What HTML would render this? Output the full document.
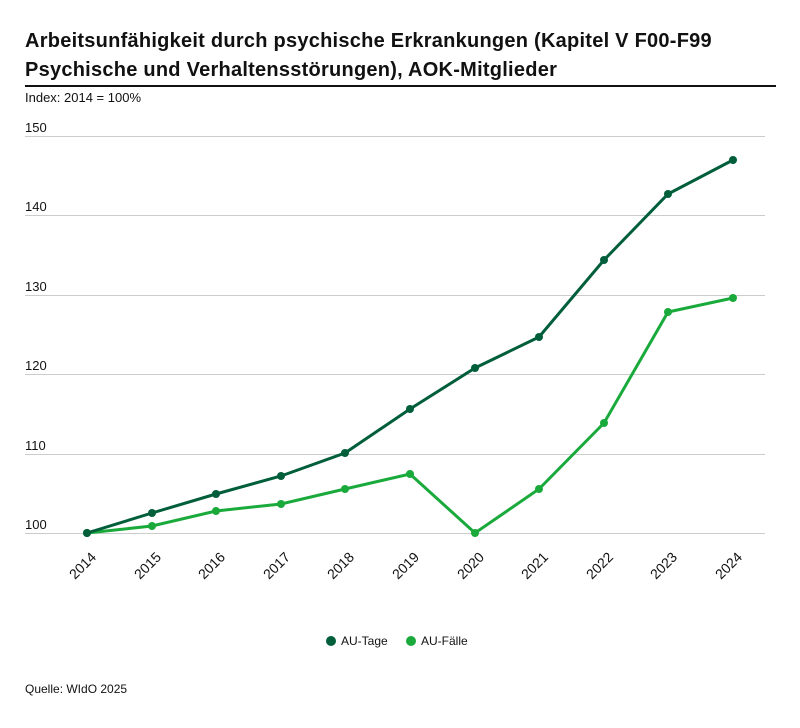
<!DOCTYPE html>
<html><head><meta charset="utf-8"><style>
body{margin:0;background:#fff;width:800px;height:723px;overflow:hidden;font-family:"Liberation Sans",sans-serif}
</style></head><body>
<svg width="800" height="723" xmlns="http://www.w3.org/2000/svg" font-family="Liberation Sans, sans-serif">
<text x="25" y="47" font-size="20" font-weight="bold" fill="#111" letter-spacing="0.25">Arbeitsunfähigkeit durch psychische Erkrankungen (Kapitel V F00-F99</text>
<text x="25" y="76" font-size="20" font-weight="bold" fill="#111" letter-spacing="0.25">Psychische und Verhaltensstörungen), AOK-Mitglieder</text>
<line x1="25" y1="86" x2="776" y2="86" stroke="#111" stroke-width="2"/>
<text x="25" y="102" font-size="13" fill="#111">Index: 2014 = 100%</text>
<g stroke="#ccc" stroke-width="1">
<line x1="25" y1="136.5" x2="765" y2="136.5"/><line x1="25" y1="215.5" x2="765" y2="215.5"/><line x1="25" y1="295.5" x2="765" y2="295.5"/><line x1="25" y1="374.5" x2="765" y2="374.5"/><line x1="25" y1="454.5" x2="765" y2="454.5"/><line x1="25" y1="533.5" x2="765" y2="533.5"/>
</g>
<g font-size="13" fill="#111">
<text x="25" y="132">150</text><text x="25" y="211">140</text><text x="25" y="291">130</text><text x="25" y="370">120</text><text x="25" y="450">110</text><text x="25" y="529">100</text>
</g>
<g font-size="14" fill="#111" text-anchor="end">
<text transform="translate(97,558) rotate(-45)">2014</text>
<text transform="translate(162,558) rotate(-45)">2015</text>
<text transform="translate(226,558) rotate(-45)">2016</text>
<text transform="translate(291,558) rotate(-45)">2017</text>
<text transform="translate(355,558) rotate(-45)">2018</text>
<text transform="translate(420,558) rotate(-45)">2019</text>
<text transform="translate(485,558) rotate(-45)">2020</text>
<text transform="translate(549,558) rotate(-45)">2021</text>
<text transform="translate(614,558) rotate(-45)">2022</text>
<text transform="translate(678,558) rotate(-45)">2023</text>
<text transform="translate(743,558) rotate(-45)">2024</text>
</g>
<polyline fill="none" stroke="#1aaa3c" stroke-width="3" points="87,533 152,526 216,511 281,504 345,489 410,474 475,533 539,489 604,423 668,312 733,298"/>
<g fill="#1aaa3c"><circle cx="87" cy="533" r="4"/><circle cx="152" cy="526" r="4"/><circle cx="216" cy="511" r="4"/><circle cx="281" cy="504" r="4"/><circle cx="345" cy="489" r="4"/><circle cx="410" cy="474" r="4"/><circle cx="475" cy="533" r="4"/><circle cx="539" cy="489" r="4"/><circle cx="604" cy="423" r="4"/><circle cx="668" cy="312" r="4"/><circle cx="733" cy="298" r="4"/></g>
<polyline fill="none" stroke="#005e3a" stroke-width="3" points="87,533 152,513 216,494 281,476 345,453 410,409 475,368 539,337 604,260 668,194 733,160"/>
<g fill="#005e3a"><circle cx="87" cy="533" r="4"/><circle cx="152" cy="513" r="4"/><circle cx="216" cy="494" r="4"/><circle cx="281" cy="476" r="4"/><circle cx="345" cy="453" r="4"/><circle cx="410" cy="409" r="4"/><circle cx="475" cy="368" r="4"/><circle cx="539" cy="337" r="4"/><circle cx="604" cy="260" r="4"/><circle cx="668" cy="194" r="4"/><circle cx="733" cy="160" r="4"/></g>
<circle cx="331" cy="641" r="5" fill="#005e3a"/><text x="341" y="645" font-size="12" fill="#111">AU-Tage</text>
<circle cx="411" cy="641" r="5" fill="#1aaa3c"/><text x="421" y="645" font-size="12" fill="#111">AU-Fälle</text>
<text x="25" y="693" font-size="12" fill="#111">Quelle: WIdO 2025</text>
</svg>
</body></html>
